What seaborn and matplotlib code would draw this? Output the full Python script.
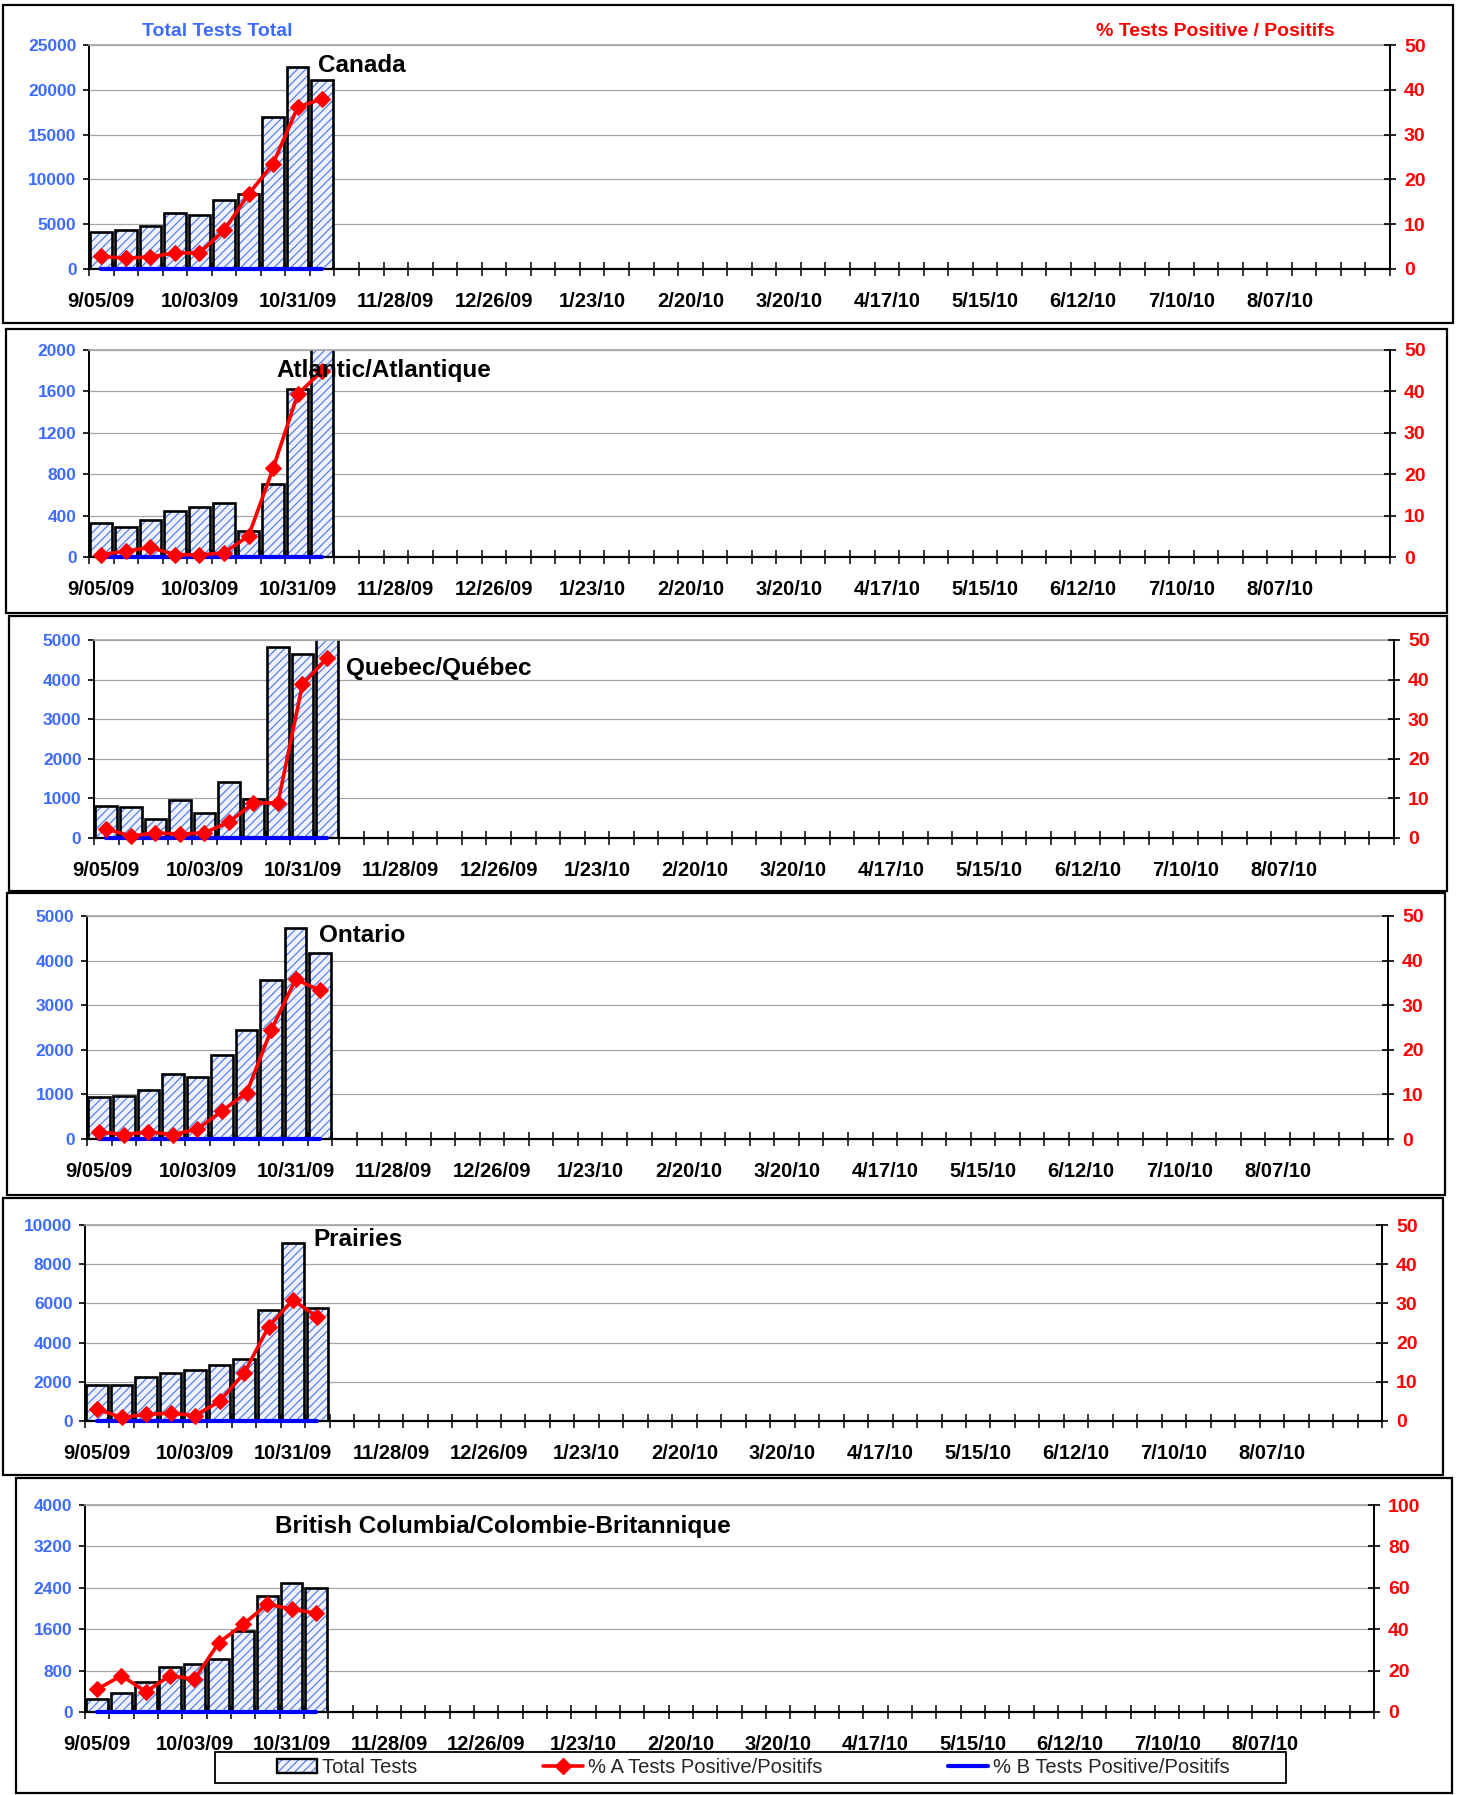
import numpy as np
import pandas as pd
import matplotlib
matplotlib.use("Agg")
import matplotlib.pyplot as plt
import seaborn as sns
from matplotlib.patches import Rectangle, Patch
from matplotlib.lines import Line2D
from matplotlib.legend_handler import HandlerTuple
from matplotlib.ticker import FixedLocator

# weekly categories, 9/05/09 .. 9/04/10
weeks = pd.date_range("2009-09-05", periods=53, freq="7D")
week_labels = [f"{d.month}/{d.day:02d}/{d.year % 100:02d}" for d in weeks]
tick_labels = ["9/05/09", "10/03/09", "10/31/09", "11/28/09", "12/26/09", "1/23/10",
               "2/20/10", "3/20/10", "4/17/10", "5/15/10", "6/12/10", "7/10/10", "8/07/10"]

# total tests per week (left axis)
canada_tests = [4160, 4310, 4760, 6200, 6060, 7730, 8400, 16980, 22590, 21140]
atlantic_tests = [328, 290, 357, 448, 486, 525, 254, 708, 1620, 2100]
quebec_tests = [800, 775, 490, 970, 640, 1405, 975, 4825, 4645, 5300]
ontario_tests = [933, 970, 1090, 1463, 1388, 1888, 2440, 3560, 4731, 4172]
prairies_tests = [1820, 1820, 2230, 2450, 2620, 2870, 3150, 5650, 9100, 5770]
bc_tests = [252, 368, 574, 877, 929, 1019, 1568, 2239, 2497, 2400]

# % A positive (right axis)
canada_pct_a = [2.8, 2.4, 2.7, 3.6, 3.6, 8.6, 16.7, 23.5, 36.1, 38.0]
atlantic_pct_a = [0.6, 1.4, 2.3, 0.6, 0.5, 1.0, 5.1, 21.4, 39.3, 45.0]
quebec_pct_a = [2.3, 0.5, 1.3, 1.0, 1.3, 4.0, 8.8, 8.9, 38.8, 45.4]
ontario_pct_a = [1.6, 1.0, 1.6, 1.0, 2.2, 6.3, 10.3, 24.4, 35.8, 33.3]
prairies_pct_a = [3.0, 0.9, 1.7, 2.0, 1.4, 5.0, 12.2, 24.0, 30.9, 26.5]
bc_pct_a = [11.0, 17.6, 9.8, 17.6, 15.8, 33.5, 42.3, 52.1, 49.7, 47.7]

# % B positive (right axis)
pct_b = [0, 0, 0, 0, 0, 0, 0, 0, 0, 0]

regions = ["Canada", "Atlantic/Atlantique", "Quebec/Québec", "Ontario", "Prairies",
           "British Columbia/Colombie-Britannique"]
tests_all = [canada_tests, atlantic_tests, quebec_tests, ontario_tests, prairies_tests, bc_tests]
pct_a_all = [canada_pct_a, atlantic_pct_a, quebec_pct_a, ontario_pct_a, prairies_pct_a, bc_pct_a]
left_max = [25000, 2000, 5000, 5000, 10000, 4000]
left_step = [5000, 400, 1000, 1000, 2000, 800]
right_max = [50, 50, 50, 50, 50, 100]
right_step = [10, 10, 10, 10, 10, 20]

# layout in pixels: axes (left, top, right, bottom), frame box, title position
W, H = 1459, 1795
axes_px = [(89, 45, 1390, 269), (89, 350, 1390, 557), (94, 640, 1394, 838),
           (87, 916, 1388, 1139), (85, 1225, 1382, 1421), (85, 1505, 1374, 1712)]
box_px = [(3, 5, 1453, 323), (6, 329, 1447, 613), (9, 616, 1447, 891),
          (7, 893, 1445, 1195), (3, 1198, 1443, 1475), (16, 1478, 1452, 1793)]
title_px = [(318, 66), (276, 370), (346, 668), (319, 935), (313, 1239), (275, 1527)]

BLUE_TXT = "#3D6BFF"
RED = "#FF0000"
BLUE = "#0000FF"
HATCH = "#5A7FE6"
FACE = "#EEF2FF"
GRID = "#A6A6A6"

sns.set_style("white")
plt.rcParams["font.family"] = ["Liberation Sans", "DejaVu Sans"]
plt.rcParams["hatch.linewidth"] = 0.9

fig = plt.figure(figsize=(W / 100, H / 100), dpi=100)


def fx(x):
    return x / W


def fy(y):
    return 1 - y / H


for x0, y0, x1, y1 in box_px:
    fig.add_artist(Rectangle((fx(x0), fy(y1)), fx(x1 - x0), (y1 - y0) / H,
                             transform=fig.transFigure, fill=False, ec="black", lw=1.6, zorder=0))

idx = list(range(10))
tick_pos = [week_labels.index(t) for t in tick_labels]
n = len(week_labels)

for i in range(6):
    l, t, r, b = axes_px[i]
    ax = fig.add_axes([fx(l), fy(b), (r - l) / W, (b - t) / H])
    df = pd.DataFrame({"week": week_labels[:len(tests_all[i])], "tests": tests_all[i]})

    sns.barplot(data=df, x="week", y="tests", order=week_labels, ax=ax, color=FACE,
                edgecolor=HATCH, hatch="////", linewidth=0, width=0.88,
                errorbar=None, saturation=1)
    sns.barplot(data=df, x="week", y="tests", order=week_labels, ax=ax, fill=False,
                color="black", linewidth=1.9, width=0.88, errorbar=None)

    ax2 = ax.twinx()
    sns.lineplot(x=idx, y=pct_b, ax=ax2, color=BLUE, lw=3.0, clip_on=False)
    sns.lineplot(x=idx, y=pct_a_all[i], ax=ax2, color=RED, lw=2.6, marker="D",
                 markersize=8, markeredgecolor=RED, clip_on=False)

    ax.set_xlim(-0.5, n - 0.5)
    ax.set_ylim(0, left_max[i])
    yt = np.arange(0, left_max[i] + 1, left_step[i])
    ax.set_yticks(yt, labels=[str(v) for v in yt], fontweight="bold")
    ax.set_xticks(tick_pos, labels=tick_labels, fontweight="bold")
    ax.xaxis.set_minor_locator(FixedLocator(np.arange(-0.5, n, 1)))
    ax.set_xlabel("")
    ax.set_ylabel("")
    ax.tick_params(axis="x", which="major", length=0, pad=16.5, labelsize=14.5,
                   labelcolor="black", bottom=True)
    ax.tick_params(axis="x", which="minor", direction="inout", length=9.5, width=1.1,
                   color="black", bottom=True)
    ax.tick_params(axis="y", direction="out", length=4.5, width=1.2, color="black",
                   labelsize=12.5, labelcolor=BLUE_TXT, pad=4.5, left=True)
    ax.yaxis.grid(True, color=GRID, lw=0.9)
    ax.xaxis.grid(False)
    ax.set_axisbelow(True)
    ax.spines["left"].set_color("black")
    ax.spines["left"].set_linewidth(1.4)
    ax.spines["bottom"].set_color("black")
    ax.spines["bottom"].set_linewidth(1.6)
    ax.spines["top"].set_color(GRID)
    ax.spines["top"].set_linewidth(1.2)
    ax.spines["right"].set_visible(False)

    ax2.set_ylim(0, right_max[i])
    rt = np.arange(0, right_max[i] + 1, right_step[i])
    ax2.set_yticks(rt, labels=[str(v) for v in rt], fontweight="bold")
    ax2.set_ylabel("")
    ax2.tick_params(axis="y", direction="inout", length=8, width=1.2, color="black",
                    labelsize=14, labelcolor=RED, pad=6, right=True)
    for s in ["left", "top", "bottom"]:
        ax2.spines[s].set_visible(False)
    ax2.spines["right"].set_color("black")
    ax2.spines["right"].set_linewidth(1.4)
    ax2.grid(False)
    ax.set_xlim(-0.5, n - 0.5)

    tx, ty = title_px[i]
    fig.text(fx(tx), fy(ty), regions[i], ha="left", va="center", fontsize=17.5,
             fontweight="bold", color="black")

# axis headers
fig.text(fx(142), fy(32), "Total Tests Total", ha="left", va="center", fontsize=14,
         fontweight="bold", color=BLUE_TXT)
fig.text(fx(1215), fy(32), "% Tests Positive / Positifs", ha="center", va="center",
         fontsize=14, fontweight="bold", color=RED)

# legend
hatch_patch = Patch(facecolor=FACE, edgecolor=HATCH, hatch="////", linewidth=0)
edge_patch = Patch(facecolor="none", edgecolor="black", linewidth=1.7)
handles = [(hatch_patch, edge_patch),
           Line2D([], [], color=RED, lw=2.6, marker="D", markersize=8),
           Line2D([], [], color=BLUE, lw=3.0)]
labels = ["Total Tests", "% A Tests Positive/Positifs", "% B Tests Positive/Positifs"]
fig.add_artist(Rectangle((fx(215), fy(1783)), fx(1286 - 215), 31 / H,
                         transform=fig.transFigure, fill=False, ec="black", lw=1.3))
fig.legend(handles, labels, handler_map={tuple: HandlerTuple(ndivide=1, pad=0)},
           loc="center", bbox_to_anchor=(fx(275), fy(1783), fx(1232 - 275), 31 / H),
           mode="expand", ncol=3, frameon=False, fontsize=14.5, handlelength=2.0,
           handletextpad=0.25, borderaxespad=0, borderpad=0.1)

fig.savefig("out.png", dpi=100)
